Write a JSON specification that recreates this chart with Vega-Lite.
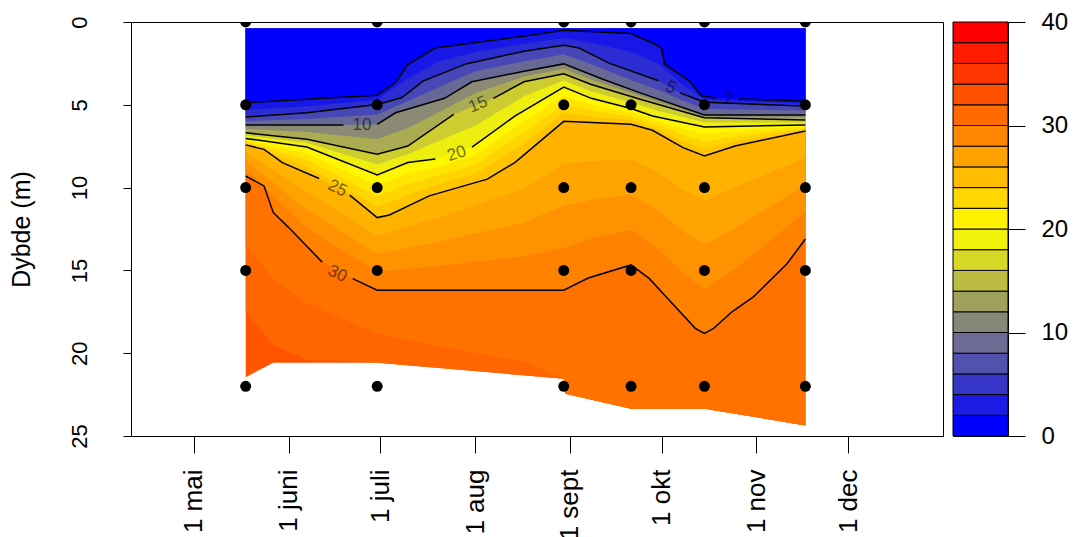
{
  "$schema": "https://vega.github.io/schema/vega-lite/v6.json",
  "background": "white",
  "padding": {"left": 8, "top": 9, "right": 5, "bottom": 5},
  "config": {
    "view": {"stroke": "#000", "strokeWidth": 1},
    "font": "Liberation Sans",
    "axis": {"domain": false, "grid": false, "tickColor": "#000", "labelColor": "#000", "titleColor": "#000", "labelFont": "Liberation Sans", "titleFont": "Liberation Sans", "titleFontWeight": "normal", "tickWidth": 1}
  },
  "spacing": 8,
  "resolve": {"scale": {"x": "independent", "y": "independent", "color": "independent"}},
  "datasets": {
    "fill": [
      {"lev": 99, "seg": "a", "date": "2015-05-18", "depth": 21.45},
      {"lev": 99, "seg": "a", "date": "2015-05-27", "depth": 20.58},
      {"lev": 99, "seg": "a", "date": "2015-06-30", "depth": 20.58},
      {"lev": 99, "seg": "a", "date": "2015-08-30", "depth": 21.54},
      {"lev": 99, "seg": "a", "date": "2015-08-30T12:00:00Z", "depth": 22.45},
      {"lev": 99, "seg": "a", "date": "2015-09-21", "depth": 23.35},
      {"lev": 99, "seg": "a", "date": "2015-10-15", "depth": 23.35},
      {"lev": 99, "seg": "a", "date": "2015-11-17", "depth": 24.36},

      {"lev": 32, "seg": "a", "date": "2015-05-18", "depth": 17.5},
      {"lev": 32, "seg": "a", "date": "2015-05-27", "depth": 19.5},
      {"lev": 32, "seg": "a", "date": "2015-06-07", "depth": 20.4},
      {"lev": 32, "seg": "a", "date": "2015-06-30", "depth": 20.58},
      {"lev": 32, "seg": "a", "date": "2015-08-30", "depth": 21.54},
      {"lev": 32, "seg": "a", "date": "2015-08-30T12:00:00Z", "depth": 22.45},
      {"lev": 32, "seg": "a", "date": "2015-09-21", "depth": 23.35},
      {"lev": 32, "seg": "a", "date": "2015-10-15", "depth": 23.35},
      {"lev": 32, "seg": "a", "date": "2015-11-17", "depth": 24.36},

      {"lev": 31, "seg": "a", "date": "2015-05-18", "depth": 13.5},
      {"lev": 31, "seg": "a", "date": "2015-05-27", "depth": 15.5},
      {"lev": 31, "seg": "a", "date": "2015-06-07", "depth": 17.0},
      {"lev": 31, "seg": "a", "date": "2015-06-30", "depth": 18.8},
      {"lev": 31, "seg": "a", "date": "2015-07-20", "depth": 19.6},
      {"lev": 31, "seg": "a", "date": "2015-08-17", "depth": 20.5},
      {"lev": 31, "seg": "a", "date": "2015-08-30", "depth": 21.54},
      {"lev": 31, "seg": "a", "date": "2015-08-30T12:00:00Z", "depth": 22.45},
      {"lev": 31, "seg": "a", "date": "2015-09-21", "depth": 23.35},
      {"lev": 31, "seg": "a", "date": "2015-10-15", "depth": 23.35},
      {"lev": 31, "seg": "a", "date": "2015-11-17", "depth": 24.36},

      {"lev": 30, "seg": "a", "date": "2015-05-18", "depth": 9.3},
      {"lev": 30, "seg": "a", "date": "2015-05-24", "depth": 9.9},
      {"lev": 30, "seg": "a", "date": "2015-05-27", "depth": 11.5},
      {"lev": 30, "seg": "a", "date": "2015-06-01", "depth": 12.4},
      {"lev": 30, "seg": "a", "date": "2015-06-12", "depth": 14.5},
      {"lev": 30, "seg": "b", "date": "2015-06-22", "depth": 15.5},
      {"lev": 30, "seg": "b", "date": "2015-06-30", "depth": 16.2},
      {"lev": 30, "seg": "b", "date": "2015-08-30", "depth": 16.2},
      {"lev": 30, "seg": "b", "date": "2015-09-07", "depth": 15.46},
      {"lev": 30, "seg": "b", "date": "2015-09-21", "depth": 14.67},
      {"lev": 30, "seg": "b", "date": "2015-09-27", "depth": 15.5},
      {"lev": 30, "seg": "b", "date": "2015-10-02", "depth": 16.5},
      {"lev": 30, "seg": "b", "date": "2015-10-12", "depth": 18.5},
      {"lev": 30, "seg": "b", "date": "2015-10-15", "depth": 18.8},
      {"lev": 30, "seg": "b", "date": "2015-10-18", "depth": 18.5},
      {"lev": 30, "seg": "b", "date": "2015-10-24", "depth": 17.5},
      {"lev": 30, "seg": "b", "date": "2015-10-31", "depth": 16.6},
      {"lev": 30, "seg": "b", "date": "2015-11-11", "depth": 14.6},
      {"lev": 30, "seg": "b", "date": "2015-11-17", "depth": 13.1},

      {"lev": 28.75, "seg": "a", "date": "2015-05-18", "depth": 8.83},
      {"lev": 28.75, "seg": "a", "date": "2015-06-07", "depth": 12.45},
      {"lev": 28.75, "seg": "a", "date": "2015-06-30", "depth": 15.1},
      {"lev": 28.75, "seg": "a", "date": "2015-07-20", "depth": 14.73},
      {"lev": 28.75, "seg": "a", "date": "2015-08-17", "depth": 14.16},
      {"lev": 28.75, "seg": "a", "date": "2015-08-30", "depth": 13.65},
      {"lev": 28.75, "seg": "a", "date": "2015-09-08", "depth": 13.07},
      {"lev": 28.75, "seg": "a", "date": "2015-09-21", "depth": 12.55},
      {"lev": 28.75, "seg": "a", "date": "2015-09-30", "depth": 13.76},
      {"lev": 28.75, "seg": "a", "date": "2015-10-08", "depth": 15.17},
      {"lev": 28.75, "seg": "a", "date": "2015-10-15", "depth": 16.12},
      {"lev": 28.75, "seg": "a", "date": "2015-10-25", "depth": 14.92},
      {"lev": 28.75, "seg": "a", "date": "2015-11-17", "depth": 11.47},

      {"lev": 27.5, "seg": "a", "date": "2015-05-18", "depth": 8.36},
      {"lev": 27.5, "seg": "a", "date": "2015-06-07", "depth": 11.34},
      {"lev": 27.5, "seg": "a", "date": "2015-06-30", "depth": 14.0},
      {"lev": 27.5, "seg": "a", "date": "2015-07-20", "depth": 13.27},
      {"lev": 27.5, "seg": "a", "date": "2015-08-17", "depth": 12.11},
      {"lev": 27.5, "seg": "a", "date": "2015-08-30", "depth": 11.1},
      {"lev": 27.5, "seg": "a", "date": "2015-09-08", "depth": 10.74},
      {"lev": 27.5, "seg": "a", "date": "2015-09-21", "depth": 10.43},
      {"lev": 27.5, "seg": "a", "date": "2015-09-30", "depth": 11.43},
      {"lev": 27.5, "seg": "a", "date": "2015-10-08", "depth": 12.65},
      {"lev": 27.5, "seg": "a", "date": "2015-10-15", "depth": 13.45},
      {"lev": 27.5, "seg": "a", "date": "2015-10-25", "depth": 12.45},
      {"lev": 27.5, "seg": "a", "date": "2015-11-17", "depth": 9.84},

      {"lev": 26.25, "seg": "a", "date": "2015-05-18", "depth": 7.89},
      {"lev": 26.25, "seg": "a", "date": "2015-06-07", "depth": 10.24},
      {"lev": 26.25, "seg": "a", "date": "2015-06-30", "depth": 12.91},
      {"lev": 26.25, "seg": "a", "date": "2015-07-20", "depth": 11.8},
      {"lev": 26.25, "seg": "a", "date": "2015-08-17", "depth": 10.07},
      {"lev": 26.25, "seg": "a", "date": "2015-08-30", "depth": 8.55},
      {"lev": 26.25, "seg": "a", "date": "2015-09-08", "depth": 8.4},
      {"lev": 26.25, "seg": "a", "date": "2015-09-21", "depth": 8.3},
      {"lev": 26.25, "seg": "a", "date": "2015-09-30", "depth": 9.09},
      {"lev": 26.25, "seg": "a", "date": "2015-10-08", "depth": 10.12},
      {"lev": 26.25, "seg": "a", "date": "2015-10-15", "depth": 10.77},
      {"lev": 26.25, "seg": "a", "date": "2015-10-25", "depth": 9.97},
      {"lev": 26.25, "seg": "a", "date": "2015-11-17", "depth": 8.21},

      {"lev": 25, "seg": "a", "date": "2015-05-18", "depth": 7.42},
      {"lev": 25, "seg": "a", "date": "2015-05-24", "depth": 7.69},
      {"lev": 25, "seg": "a", "date": "2015-05-30", "depth": 8.49},
      {"lev": 25, "seg": "a", "date": "2015-06-11", "depth": 9.45},
      {"lev": 25, "seg": "b", "date": "2015-06-21", "depth": 10.45},
      {"lev": 25, "seg": "b", "date": "2015-06-30", "depth": 11.81},
      {"lev": 25, "seg": "b", "date": "2015-07-04", "depth": 11.65},
      {"lev": 25, "seg": "b", "date": "2015-07-17", "depth": 10.5},
      {"lev": 25, "seg": "b", "date": "2015-08-05", "depth": 9.49},
      {"lev": 25, "seg": "b", "date": "2015-08-14", "depth": 8.49},
      {"lev": 25, "seg": "b", "date": "2015-08-30", "depth": 6.0},
      {"lev": 25, "seg": "b", "date": "2015-09-21", "depth": 6.18},
      {"lev": 25, "seg": "b", "date": "2015-09-28", "depth": 6.54},
      {"lev": 25, "seg": "b", "date": "2015-10-08", "depth": 7.59},
      {"lev": 25, "seg": "b", "date": "2015-10-15", "depth": 8.09},
      {"lev": 25, "seg": "b", "date": "2015-10-25", "depth": 7.49},
      {"lev": 25, "seg": "b", "date": "2015-11-17", "depth": 6.58},

      {"lev": 23.75, "seg": "a", "date": "2015-05-18", "depth": 7.32},
      {"lev": 23.75, "seg": "a", "date": "2015-06-07", "depth": 8.74},
      {"lev": 23.75, "seg": "a", "date": "2015-06-30", "depth": 11.17},
      {"lev": 23.75, "seg": "a", "date": "2015-07-10", "depth": 10.46},
      {"lev": 23.75, "seg": "a", "date": "2015-07-20", "depth": 9.81},
      {"lev": 23.75, "seg": "a", "date": "2015-08-01", "depth": 9.15},
      {"lev": 23.75, "seg": "a", "date": "2015-08-17", "depth": 7.35},
      {"lev": 23.75, "seg": "a", "date": "2015-08-30", "depth": 5.48},
      {"lev": 23.75, "seg": "a", "date": "2015-09-08", "depth": 5.71},
      {"lev": 23.75, "seg": "a", "date": "2015-09-21", "depth": 5.94},
      {"lev": 23.75, "seg": "a", "date": "2015-09-30", "depth": 6.5},
      {"lev": 23.75, "seg": "a", "date": "2015-10-08", "depth": 7.2},
      {"lev": 23.75, "seg": "a", "date": "2015-10-15", "depth": 7.65},
      {"lev": 23.75, "seg": "a", "date": "2015-10-25", "depth": 7.19},
      {"lev": 23.75, "seg": "a", "date": "2015-11-17", "depth": 6.49},

      {"lev": 22.5, "seg": "a", "date": "2015-05-18", "depth": 7.22},
      {"lev": 22.5, "seg": "a", "date": "2015-06-07", "depth": 8.34},
      {"lev": 22.5, "seg": "a", "date": "2015-06-30", "depth": 10.52},
      {"lev": 22.5, "seg": "a", "date": "2015-07-10", "depth": 9.8},
      {"lev": 22.5, "seg": "a", "date": "2015-07-20", "depth": 9.27},
      {"lev": 22.5, "seg": "a", "date": "2015-08-01", "depth": 8.6},
      {"lev": 22.5, "seg": "a", "date": "2015-08-17", "depth": 6.69},
      {"lev": 22.5, "seg": "a", "date": "2015-08-30", "depth": 4.97},
      {"lev": 22.5, "seg": "a", "date": "2015-09-08", "depth": 5.34},
      {"lev": 22.5, "seg": "a", "date": "2015-09-21", "depth": 5.7},
      {"lev": 22.5, "seg": "a", "date": "2015-09-30", "depth": 6.25},
      {"lev": 22.5, "seg": "a", "date": "2015-10-08", "depth": 6.82},
      {"lev": 22.5, "seg": "a", "date": "2015-10-15", "depth": 7.22},
      {"lev": 22.5, "seg": "a", "date": "2015-10-25", "depth": 6.9},
      {"lev": 22.5, "seg": "a", "date": "2015-11-17", "depth": 6.4},

      {"lev": 21.25, "seg": "a", "date": "2015-05-18", "depth": 7.13},
      {"lev": 21.25, "seg": "a", "date": "2015-06-07", "depth": 7.95},
      {"lev": 21.25, "seg": "a", "date": "2015-06-30", "depth": 9.88},
      {"lev": 21.25, "seg": "a", "date": "2015-07-10", "depth": 9.15},
      {"lev": 21.25, "seg": "a", "date": "2015-07-20", "depth": 8.74},
      {"lev": 21.25, "seg": "a", "date": "2015-08-01", "depth": 8.04},
      {"lev": 21.25, "seg": "a", "date": "2015-08-17", "depth": 6.02},
      {"lev": 21.25, "seg": "a", "date": "2015-08-30", "depth": 4.45},
      {"lev": 21.25, "seg": "a", "date": "2015-09-08", "depth": 4.98},
      {"lev": 21.25, "seg": "a", "date": "2015-09-21", "depth": 5.46},
      {"lev": 21.25, "seg": "a", "date": "2015-09-30", "depth": 6.0},
      {"lev": 21.25, "seg": "a", "date": "2015-10-08", "depth": 6.44},
      {"lev": 21.25, "seg": "a", "date": "2015-10-15", "depth": 6.78},
      {"lev": 21.25, "seg": "a", "date": "2015-10-25", "depth": 6.6},
      {"lev": 21.25, "seg": "a", "date": "2015-11-17", "depth": 6.31},

      {"lev": 20, "seg": "a", "date": "2015-05-18", "depth": 7.03},
      {"lev": 20, "seg": "a", "date": "2015-06-07", "depth": 7.55},
      {"lev": 20, "seg": "a", "date": "2015-06-30", "depth": 9.23},
      {"lev": 20, "seg": "a", "date": "2015-07-10", "depth": 8.49},
      {"lev": 20, "seg": "a", "date": "2015-07-19", "depth": 8.27},
      {"lev": 20, "seg": "b", "date": "2015-07-31", "depth": 7.55},
      {"lev": 20, "seg": "b", "date": "2015-08-14", "depth": 5.68},
      {"lev": 20, "seg": "b", "date": "2015-08-30", "depth": 3.93},
      {"lev": 20, "seg": "b", "date": "2015-09-08", "depth": 4.61},
      {"lev": 20, "seg": "b", "date": "2015-09-21", "depth": 5.22},
      {"lev": 20, "seg": "b", "date": "2015-09-28", "depth": 5.68},
      {"lev": 20, "seg": "b", "date": "2015-10-15", "depth": 6.34},
      {"lev": 20, "seg": "b", "date": "2015-11-17", "depth": 6.22},

      {"lev": 17.5, "seg": "a", "date": "2015-05-18", "depth": 6.86},
      {"lev": 17.5, "seg": "a", "date": "2015-06-07", "depth": 7.31},
      {"lev": 17.5, "seg": "a", "date": "2015-06-30", "depth": 8.61},
      {"lev": 17.5, "seg": "a", "date": "2015-07-10", "depth": 7.99},
      {"lev": 17.5, "seg": "a", "date": "2015-07-20", "depth": 7.2},
      {"lev": 17.5, "seg": "a", "date": "2015-08-01", "depth": 6.27},
      {"lev": 17.5, "seg": "a", "date": "2015-08-17", "depth": 4.48},
      {"lev": 17.5, "seg": "a", "date": "2015-08-30", "depth": 3.53},
      {"lev": 17.5, "seg": "a", "date": "2015-09-08", "depth": 4.19},
      {"lev": 17.5, "seg": "a", "date": "2015-09-21", "depth": 4.86},
      {"lev": 17.5, "seg": "a", "date": "2015-09-30", "depth": 5.38},
      {"lev": 17.5, "seg": "a", "date": "2015-10-08", "depth": 5.73},
      {"lev": 17.5, "seg": "a", "date": "2015-10-15", "depth": 6.06},
      {"lev": 17.5, "seg": "a", "date": "2015-10-25", "depth": 6.07},
      {"lev": 17.5, "seg": "a", "date": "2015-11-17", "depth": 6.07},

      {"lev": 15, "seg": "a", "date": "2015-05-18", "depth": 6.69},
      {"lev": 15, "seg": "a", "date": "2015-06-07", "depth": 7.08},
      {"lev": 15, "seg": "a", "date": "2015-06-30", "depth": 7.99},
      {"lev": 15, "seg": "a", "date": "2015-07-10", "depth": 7.49},
      {"lev": 15, "seg": "a", "date": "2015-07-25", "depth": 5.58},
      {"lev": 15, "seg": "b", "date": "2015-08-07", "depth": 4.61},
      {"lev": 15, "seg": "b", "date": "2015-08-17", "depth": 3.61},
      {"lev": 15, "seg": "b", "date": "2015-08-30", "depth": 3.13},
      {"lev": 15, "seg": "b", "date": "2015-09-08", "depth": 3.77},
      {"lev": 15, "seg": "b", "date": "2015-09-24", "depth": 4.67},
      {"lev": 15, "seg": "b", "date": "2015-10-15", "depth": 5.78},
      {"lev": 15, "seg": "b", "date": "2015-11-17", "depth": 5.92},

      {"lev": 12.5, "seg": "a", "date": "2015-05-18", "depth": 6.45},
      {"lev": 12.5, "seg": "a", "date": "2015-06-07", "depth": 6.65},
      {"lev": 12.5, "seg": "a", "date": "2015-06-30", "depth": 7.08},
      {"lev": 12.5, "seg": "a", "date": "2015-07-10", "depth": 6.4},
      {"lev": 12.5, "seg": "a", "date": "2015-07-20", "depth": 5.46},
      {"lev": 12.5, "seg": "a", "date": "2015-08-01", "depth": 4.3},
      {"lev": 12.5, "seg": "a", "date": "2015-08-17", "depth": 3.29},
      {"lev": 12.5, "seg": "a", "date": "2015-08-30", "depth": 2.83},
      {"lev": 12.5, "seg": "a", "date": "2015-09-08", "depth": 3.48},
      {"lev": 12.5, "seg": "a", "date": "2015-09-21", "depth": 4.29},
      {"lev": 12.5, "seg": "a", "date": "2015-09-30", "depth": 4.83},
      {"lev": 12.5, "seg": "a", "date": "2015-10-08", "depth": 5.29},
      {"lev": 12.5, "seg": "a", "date": "2015-10-15", "depth": 5.7},
      {"lev": 12.5, "seg": "a", "date": "2015-10-25", "depth": 5.73},
      {"lev": 12.5, "seg": "a", "date": "2015-11-17", "depth": 5.77},

      {"lev": 10, "seg": "a", "date": "2015-05-18", "depth": 6.22},
      {"lev": 10, "seg": "a", "date": "2015-06-19", "depth": 6.22},
      {"lev": 10, "seg": "b", "date": "2015-06-30", "depth": 6.18},
      {"lev": 10, "seg": "b", "date": "2015-07-06", "depth": 5.48},
      {"lev": 10, "seg": "b", "date": "2015-07-22", "depth": 4.61},
      {"lev": 10, "seg": "b", "date": "2015-07-31", "depth": 3.61},
      {"lev": 10, "seg": "b", "date": "2015-08-17", "depth": 2.97},
      {"lev": 10, "seg": "b", "date": "2015-08-30", "depth": 2.53},
      {"lev": 10, "seg": "b", "date": "2015-09-12", "depth": 3.47},
      {"lev": 10, "seg": "b", "date": "2015-09-24", "depth": 4.28},
      {"lev": 10, "seg": "b", "date": "2015-10-15", "depth": 5.62},
      {"lev": 10, "seg": "b", "date": "2015-11-17", "depth": 5.62},

      {"lev": 7.5, "seg": "a", "date": "2015-05-18", "depth": 5.98},
      {"lev": 7.5, "seg": "a", "date": "2015-06-07", "depth": 5.85},
      {"lev": 7.5, "seg": "a", "date": "2015-06-30", "depth": 5.58},
      {"lev": 7.5, "seg": "a", "date": "2015-07-10", "depth": 4.78},
      {"lev": 7.5, "seg": "a", "date": "2015-07-20", "depth": 3.96},
      {"lev": 7.5, "seg": "a", "date": "2015-08-01", "depth": 2.98},
      {"lev": 7.5, "seg": "a", "date": "2015-08-17", "depth": 2.37},
      {"lev": 7.5, "seg": "a", "date": "2015-08-30", "depth": 1.97},
      {"lev": 7.5, "seg": "a", "date": "2015-09-08", "depth": 2.55},
      {"lev": 7.5, "seg": "a", "date": "2015-09-21", "depth": 3.5},
      {"lev": 7.5, "seg": "a", "date": "2015-09-30", "depth": 4.1},
      {"lev": 7.5, "seg": "a", "date": "2015-10-08", "depth": 4.76},
      {"lev": 7.5, "seg": "a", "date": "2015-10-15", "depth": 5.24},
      {"lev": 7.5, "seg": "a", "date": "2015-10-25", "depth": 5.29},
      {"lev": 7.5, "seg": "a", "date": "2015-11-17", "depth": 5.35},

      {"lev": 5, "seg": "a", "date": "2015-05-18", "depth": 5.74},
      {"lev": 5, "seg": "a", "date": "2015-06-07", "depth": 5.48},
      {"lev": 5, "seg": "a", "date": "2015-06-30", "depth": 4.98},
      {"lev": 5, "seg": "a", "date": "2015-07-08", "depth": 4.58},
      {"lev": 5, "seg": "a", "date": "2015-07-15", "depth": 3.57},
      {"lev": 5, "seg": "a", "date": "2015-07-29", "depth": 2.53},
      {"lev": 5, "seg": "a", "date": "2015-08-17", "depth": 1.77},
      {"lev": 5, "seg": "a", "date": "2015-08-30", "depth": 1.41},
      {"lev": 5, "seg": "a", "date": "2015-09-04", "depth": 1.57},
      {"lev": 5, "seg": "a", "date": "2015-09-14", "depth": 2.5},
      {"lev": 5, "seg": "a", "date": "2015-09-30", "depth": 3.55},
      {"lev": 5, "seg": "b", "date": "2015-10-07", "depth": 4.28},
      {"lev": 5, "seg": "b", "date": "2015-10-15", "depth": 4.85},
      {"lev": 5, "seg": "b", "date": "2015-11-17", "depth": 5.08},

      {"lev": 3.5, "seg": "a", "date": "2015-05-18", "depth": 5.31},
      {"lev": 3.5, "seg": "a", "date": "2015-06-07", "depth": 5.08},
      {"lev": 3.5, "seg": "a", "date": "2015-06-30", "depth": 4.7},
      {"lev": 3.5, "seg": "a", "date": "2015-07-10", "depth": 3.43},
      {"lev": 3.5, "seg": "a", "date": "2015-07-20", "depth": 2.38},
      {"lev": 3.5, "seg": "a", "date": "2015-08-01", "depth": 1.83},
      {"lev": 3.5, "seg": "a", "date": "2015-08-17", "depth": 1.32},
      {"lev": 3.5, "seg": "a", "date": "2015-08-30", "depth": 0.96},
      {"lev": 3.5, "seg": "a", "date": "2015-09-08", "depth": 1.25},
      {"lev": 3.5, "seg": "a", "date": "2015-09-21", "depth": 1.8},
      {"lev": 3.5, "seg": "a", "date": "2015-09-30", "depth": 2.52},
      {"lev": 3.5, "seg": "a", "date": "2015-10-08", "depth": 3.8},
      {"lev": 3.5, "seg": "a", "date": "2015-10-15", "depth": 4.68},
      {"lev": 3.5, "seg": "a", "date": "2015-10-25", "depth": 4.8},
      {"lev": 3.5, "seg": "a", "date": "2015-11-17", "depth": 4.93},

      {"lev": 2, "seg": "a", "date": "2015-05-18", "depth": 4.88},
      {"lev": 2, "seg": "a", "date": "2015-06-30", "depth": 4.42},
      {"lev": 2, "seg": "a", "date": "2015-07-06", "depth": 3.67},
      {"lev": 2, "seg": "a", "date": "2015-07-10", "depth": 2.57},
      {"lev": 2, "seg": "a", "date": "2015-07-19", "depth": 1.57},
      {"lev": 2, "seg": "a", "date": "2015-08-17", "depth": 0.86},
      {"lev": 2, "seg": "a", "date": "2015-08-30", "depth": 0.5},
      {"lev": 2, "seg": "a", "date": "2015-09-21", "depth": 0.7},
      {"lev": 2, "seg": "a", "date": "2015-09-29", "depth": 1.36},
      {"lev": 2, "seg": "a", "date": "2015-10-01", "depth": 1.6},
      {"lev": 2, "seg": "a", "date": "2015-10-02", "depth": 2.55},
      {"lev": 2, "seg": "a", "date": "2015-10-10", "depth": 3.55},
      {"lev": 2, "seg": "a", "date": "2015-10-14", "depth": 4.45},
      {"lev": 2, "seg": "a", "date": "2015-10-19", "depth": 4.6},
      {"lev": 2, "seg": "b", "date": "2015-10-26", "depth": 4.65},
      {"lev": 2, "seg": "b", "date": "2015-11-17", "depth": 4.78}
    ],
    "labs": [
      {"txt": "2", "date": "2015-10-23", "depth": 4.62},
      {"txt": "5", "date": "2015-10-04", "depth": 3.95},
      {"txt": "10", "date": "2015-06-25", "depth": 6.22},
      {"txt": "15", "date": "2015-08-02", "depth": 4.98},
      {"txt": "20", "date": "2015-07-26", "depth": 7.95},
      {"txt": "25", "date": "2015-06-17", "depth": 10.04},
      {"txt": "30", "date": "2015-06-17", "depth": 15.2}
    ],
    "pts": [
      {"date": "2015-05-18", "depth": 0}, {"date": "2015-05-18", "depth": 5}, {"date": "2015-05-18", "depth": 10}, {"date": "2015-05-18", "depth": 15}, {"date": "2015-05-18", "depth": 22},
      {"date": "2015-06-30", "depth": 0}, {"date": "2015-06-30", "depth": 5}, {"date": "2015-06-30", "depth": 10}, {"date": "2015-06-30", "depth": 15}, {"date": "2015-06-30", "depth": 22},
      {"date": "2015-08-30", "depth": 0}, {"date": "2015-08-30", "depth": 5}, {"date": "2015-08-30", "depth": 10}, {"date": "2015-08-30", "depth": 15}, {"date": "2015-08-30", "depth": 22},
      {"date": "2015-09-21", "depth": 0}, {"date": "2015-09-21", "depth": 5}, {"date": "2015-09-21", "depth": 10}, {"date": "2015-09-21", "depth": 15}, {"date": "2015-09-21", "depth": 22},
      {"date": "2015-10-15", "depth": 0}, {"date": "2015-10-15", "depth": 5}, {"date": "2015-10-15", "depth": 10}, {"date": "2015-10-15", "depth": 15}, {"date": "2015-10-15", "depth": 22},
      {"date": "2015-11-17", "depth": 0}, {"date": "2015-11-17", "depth": 5}, {"date": "2015-11-17", "depth": 10}, {"date": "2015-11-17", "depth": 15}, {"date": "2015-11-17", "depth": 22}
    ],
    "bar": [
      {"lo": 0, "hi": 2}, {"lo": 2, "hi": 4}, {"lo": 4, "hi": 6}, {"lo": 6, "hi": 8}, {"lo": 8, "hi": 10},
      {"lo": 10, "hi": 12}, {"lo": 12, "hi": 14}, {"lo": 14, "hi": 16}, {"lo": 16, "hi": 18}, {"lo": 18, "hi": 20},
      {"lo": 20, "hi": 22}, {"lo": 22, "hi": 24}, {"lo": 24, "hi": 26}, {"lo": 26, "hi": 28}, {"lo": 28, "hi": 30},
      {"lo": 30, "hi": 32}, {"lo": 32, "hi": 34}, {"lo": 34, "hi": 36}, {"lo": 36, "hi": 38}, {"lo": 38, "hi": 40}
    ]
  },
  "hconcat": [
    {
      "width": 812,
      "height": 414,
      "encoding": {
        "x": {
          "field": "date", "type": "temporal",
          "scale": {"type": "utc", "domain": [{"year": 2015, "month": 4, "date": 10, "hours": 12, "utc": true}, {"year": 2016, "month": 1, "date": 1, "utc": true}]},
          "axis": {
            "title": null,
            "values": [
              {"year": 2015, "month": 5, "date": 1, "utc": true},
              {"year": 2015, "month": 6, "date": 1, "utc": true},
              {"year": 2015, "month": 7, "date": 1, "utc": true},
              {"year": 2015, "month": 8, "date": 1, "utc": true},
              {"year": 2015, "month": 9, "date": 1, "utc": true},
              {"year": 2015, "month": 10, "date": 1, "utc": true},
              {"year": 2015, "month": 11, "date": 1, "utc": true},
              {"year": 2015, "month": 12, "date": 1, "utc": true}
            ],
            "labelExpr": "'1 ' + ['jan','feb','mar','apr','mai','juni','juli','aug','sept','okt','nov','dec'][utcmonth(datum.value)]",
            "labelAngle": -90, "labelAlign": "right", "labelBaseline": "middle",
            "labelFontSize": 26, "tickSize": 17, "labelPadding": 16,
            "labelOverlap": false, "labelFlush": false
          }
        },
        "y": {
          "field": "depth", "type": "quantitative", "stack": null,
          "scale": {"domain": [0, 25], "reverse": true, "nice": false, "zero": false},
          "axis": {
            "title": "Dybde (m)", "values": [0, 5, 10, 15, 20, 25],
            "labelAngle": -90, "labelAlign": "center", "labelBaseline": "bottom",
            "labelFontSize": 22, "tickSize": 8, "labelPadding": 32,
            "titleFontSize": 25, "titlePadding": 34,
            "labelFlush": false, "labelOverlap": false
          }
        }
      },
      "layer": [
        {
          "data": {"name": "fill"},
          "mark": {"type": "area"},
          "encoding": {
            "y2": {"datum": 0.4},
            "color": {
              "field": "lev", "type": "ordinal",
              "scale": {
                "domain": [99, 32, 31, 30, 28.75, 27.5, 26.25, 25, 23.75, 22.5, 21.25, 20, 17.5, 15, 12.5, 10, 7.5, 5, 3.5, 2],
                "range": ["#FF5400", "#FF6500", "#FF7200", "#FF8100", "#FF9200", "#FFA300", "#FFB300", "#FFC400", "#FFD500", "#FFE600", "#FFF700", "#EEEE11", "#CDCD32", "#ABAB54", "#8A8A75", "#686897", "#4747B8", "#2C2CD3", "#1717E8", "#0000FF"]
              },
              "legend": null
            }
          }
        },
        {
          "data": {"name": "fill"},
          "transform": [{"filter": {"field": "lev", "oneOf": [2, 5, 10, 15, 20, 25, 30]}}],
          "mark": {"type": "line", "color": "#000", "strokeWidth": 1.5},
          "encoding": {"detail": [{"field": "lev", "type": "nominal"}, {"field": "seg", "type": "nominal"}]}
        },
        {
          "data": {"name": "labs"},
          "transform": [{"filter": {"field": "txt", "oneOf": ["2", "10"]}}],
          "mark": {"type": "text", "angle": 0, "fontSize": 17, "color": "#000", "opacity": 0.55, "align": "center", "baseline": "middle"},
          "encoding": {"text": {"field": "txt"}}
        },
        {
          "data": {"name": "labs"},
          "transform": [{"filter": {"field": "txt", "oneOf": ["5", "25", "30"]}}],
          "mark": {"type": "text", "angle": 27, "fontSize": 17, "color": "#000", "opacity": 0.55, "align": "center", "baseline": "middle"},
          "encoding": {"text": {"field": "txt"}}
        },
        {
          "data": {"name": "labs"},
          "transform": [{"filter": {"field": "txt", "oneOf": ["15"]}}],
          "mark": {"type": "text", "angle": -22, "fontSize": 17, "color": "#000", "opacity": 0.55, "align": "center", "baseline": "middle"},
          "encoding": {"text": {"field": "txt"}}
        },
        {
          "data": {"name": "labs"},
          "transform": [{"filter": {"field": "txt", "oneOf": ["20"]}}],
          "mark": {"type": "text", "angle": -18, "fontSize": 17, "color": "#000", "opacity": 0.55, "align": "center", "baseline": "middle"},
          "encoding": {"text": {"field": "txt"}}
        },
        {
          "data": {"name": "pts"},
          "mark": {"type": "circle", "size": 120, "color": "#000", "opacity": 1, "clip": true}
        }
      ]
    },
    {
      "width": 55,
      "height": 414,
      "data": {"name": "bar"},
      "mark": {"type": "rect", "stroke": "#000", "strokeWidth": 1},
      "encoding": {
        "y": {
          "field": "lo", "type": "quantitative",
          "scale": {"domain": [0, 40], "nice": false, "zero": false},
          "axis": {"orient": "right", "title": null, "values": [0, 10, 20, 30, 40], "tickSize": 17, "labelPadding": 16, "labelFontSize": 24, "labelAlign": "left", "labelBaseline": "middle", "labelFlush": false, "labelOverlap": false}
        },
        "y2": {"field": "hi"},
        "color": {
          "field": "lo", "type": "ordinal",
          "scale": {
            "domain": [0, 2, 4, 6, 8, 10, 12, 14, 16, 18, 20, 22, 24, 26, 28, 30, 32, 34, 36, 38],
            "range": ["#0000FF", "#1B1BE4", "#3636C9", "#5151AE", "#6B6B94", "#868679", "#A1A15E", "#BCBC43", "#D7D728", "#F2F20D", "#FFF200", "#FFD700", "#FFBC00", "#FFA100", "#FF8600", "#FF6B00", "#FF5100", "#FF3600", "#FF1B00", "#FF0000"]
          },
          "legend": null
        }
      }
    }
  ]
}
